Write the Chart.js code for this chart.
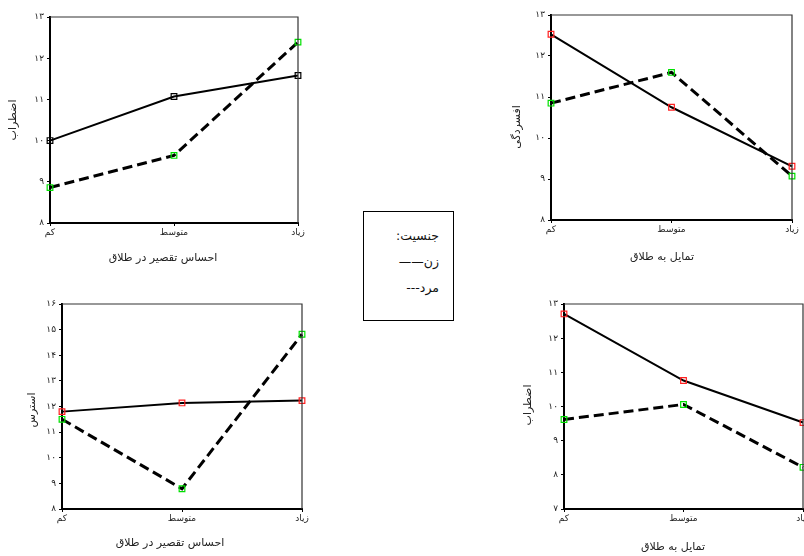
<!DOCTYPE html>
<html lang="fa">
<head>
<meta charset="utf-8">
<title>نمودارهای جنسیت</title>
<script src="https://cdn.jsdelivr.net/npm/chart.js@4.4.1/dist/chart.umd.min.js"></script>
<style>
  html, body { margin: 0; padding: 0; background: #fff; }
  #page { position: relative; width: 804px; height: 556px; overflow: hidden; background: #fff; }
  .panel { position: absolute; }
  #legendBox {
    position: absolute; left: 363px; top: 211px; width: 91px; height: 110px;
    border: 1px solid #000; box-sizing: border-box;
    font-family: "DejaVu Sans", sans-serif; font-size: 12.5px; color: #111;
    direction: rtl; text-align: right; padding-right: 14px; padding-top: 17px;
  }
  #legendBox div { height: 26px; line-height: 14px; }
</style>
</head>
<body>
<div id="page">
  <div class="panel" id="p1"><canvas id="c1"></canvas></div>
  <div class="panel" id="p2"><canvas id="c2"></canvas></div>
  <div class="panel" id="p3"><canvas id="c3"></canvas></div>
  <div class="panel" id="p4"><canvas id="c4"></canvas></div>
  <div id="legendBox">
    <div>جنسیت:</div>
    <div>زن——</div>
    <div>مرد---</div>
  </div>
</div>
<script>
// categories on the x axis
const levels = ['کم', 'متوسط', 'زیاد'];

// احساس تقصیر در طلاق -> اضطراب
const guiltAnxietyWomen = [10.0, 11.07, 11.58];
const guiltAnxietyMen = [8.86, 9.64, 12.39];

// تمایل به طلاق -> افسردگی
const wishDepressionWomen = [12.53, 10.75, 9.31];
const wishDepressionMen = [10.85, 11.6, 9.07];

// احساس تقصیر در طلاق -> استرس
const guiltStressWomen = [11.8, 12.14, 12.23];
const guiltStressMen = [11.5, 8.79, 14.82];

// تمایل به طلاق -> اضطراب
const wishAnxietyWomen = [12.71, 10.76, 9.53];
const wishAnxietyMen = [9.62, 10.06, 8.22];

// y axis ranges
const guiltAnxietyRange = [8, 13];
const wishDepressionRange = [8, 13];
const guiltStressRange = [8, 16];
const wishAnxietyRange = [7, 13];

const FONT = '"DejaVu Sans", sans-serif';
const persianDigits = '۰۱۲۳۴۵۶۷۸۹';
const toPersian = v => String(v).replace(/\d/g, d => persianDigits[d]);

// box round the plot area + the two axis titles at their own spots
const framePlugin = {
    id: 'frame',
    afterDatasetsDraw(chart, args, opts) {
        const a = chart.chartArea;
        const c = chart.ctx;
        c.save();
        c.strokeStyle = '#333';
        c.lineWidth = 1.2;
        c.beginPath();
        c.moveTo(a.left, a.top);
        c.lineTo(a.right, a.top);
        c.lineTo(a.right, a.bottom);
        c.stroke();

        c.fillStyle = '#222';
        c.font = '11px ' + FONT;
        c.textAlign = 'center';
        c.textBaseline = 'middle';
        c.fillText(opts.xTitle, opts.xTitlePos[0], opts.xTitlePos[1]);
        c.translate(opts.yTitlePos[0], opts.yTitlePos[1]);
        c.rotate(-Math.PI / 2);
        c.fillText(opts.yTitle, 0, 0);
        c.restore();
    }
};

function makePanel(id, box, xTitle, yTitle, range, women, men, womenMarker) {
    const wrap = document.getElementById('p' + id);
    wrap.style.left = box.x + 'px';
    wrap.style.top = box.y + 'px';
    wrap.style.width = box.w + 'px';
    wrap.style.height = box.h + 'px';

    new Chart(document.getElementById('c' + id), {
        type: 'line',
        data: {
            labels: levels,
            datasets: [{
                label: 'زن',
                data: women,
                borderColor: '#000',
                borderWidth: 2,
                pointStyle: 'rect',
                pointRadius: 4,
                pointBorderWidth: 1.2,
                pointBorderColor: womenMarker,
                pointBackgroundColor: 'rgba(255,255,255,0)',
                tension: 0,
                clip: false
            }, {
                label: 'مرد',
                data: men,
                borderColor: '#000',
                borderWidth: 3,
                borderDash: [10, 5],
                pointStyle: 'rect',
                pointRadius: 4,
                pointBorderWidth: 1.2,
                pointBorderColor: '#00e000',
                pointBackgroundColor: 'rgba(255,255,255,0)',
                tension: 0,
                clip: false
            }]
        },
        options: {
            responsive: true,
            maintainAspectRatio: false,
            animation: false,
            layout: {
                padding: { top: box.area.t, right: box.w - box.area.r, left: 0, bottom: 0 }
            },
            plugins: {
                legend: { display: false },
                tooltip: { enabled: false },
                frame: { xTitle: xTitle, yTitle: yTitle, xTitlePos: box.xTitle, yTitlePos: box.yTitle }
            },
            scales: {
                x: {
                    offset: false,
                    grid: { drawOnChartArea: false, tickLength: 3, color: '#000', lineWidth: 1 },
                    border: { color: '#000', width: 2 },
                    ticks: { font: { family: FONT, size: 9 }, color: '#222', padding: 1, maxRotation: 0 },
                    afterFit(scale) { scale.height = box.h - box.area.b; }
                },
                y: {
                    min: range[0],
                    max: range[1],
                    grid: { drawOnChartArea: false, tickLength: 3, color: '#000', lineWidth: 1 },
                    border: { color: '#000', width: 2 },
                    ticks: {
                        stepSize: 1,
                        font: { family: FONT, size: 9 },
                        color: '#222',
                        padding: 3,
                        callback: v => toPersian(v)
                    },
                    afterFit(scale) { scale.width = box.area.l; }
                }
            }
        },
        plugins: [framePlugin]
    });
}

makePanel(1, { x: 0, y: 0, w: 320, h: 280, area: { l: 50, t: 17, r: 298, b: 223 }, xTitle: [163, 258], yTitle: [13, 120] },
    'احساس تقصیر در طلاق', 'اضطراب', guiltAnxietyRange, guiltAnxietyWomen, guiltAnxietyMen, '#000');
makePanel(2, { x: 490, y: 0, w: 314, h: 280, area: { l: 61, t: 15, r: 302, b: 220 }, xTitle: [172, 257], yTitle: [27, 127] },
    'تمایل به طلاق', 'افسردگی', wishDepressionRange, wishDepressionWomen, wishDepressionMen, '#ff2020');
makePanel(3, { x: 0, y: 285, w: 320, h: 271, area: { l: 62, t: 19, r: 302, b: 224 }, xTitle: [170, 258], yTitle: [32, 125] },
    'احساس تقصیر در طلاق', 'استرس', guiltStressRange, guiltStressWomen, guiltStressMen, '#ff2020');
makePanel(4, { x: 490, y: 285, w: 330, h: 271, area: { l: 74, t: 19, r: 313, b: 224 }, xTitle: [183, 262], yTitle: [38, 120] },
    'تمایل به طلاق', 'اضطراب', wishAnxietyRange, wishAnxietyWomen, wishAnxietyMen, '#ff2020');
</script>
</body>
</html>
